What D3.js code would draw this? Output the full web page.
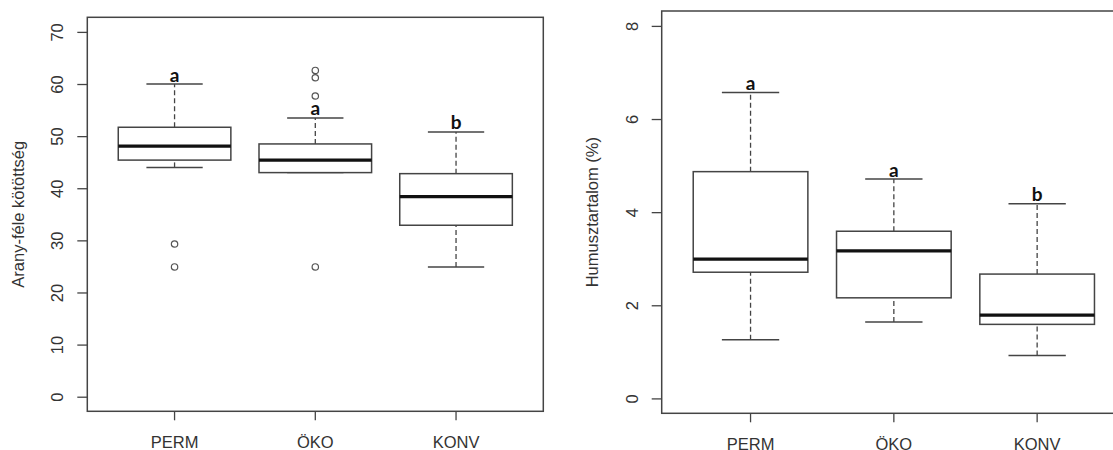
<!DOCTYPE html>
<html>
<head>
<meta charset="utf-8">
<script src="https://cdn.jsdelivr.net/npm/d3@7"></script>
<style>
  body { margin: 0; background: #fff; }
  svg { display: block; }
  .tick text { font-family: "Liberation Sans", Arial, sans-serif; font-size: 16.5px; fill: #333; }
</style>
</head>
<body>
<div id="chart"></div>
<script>
// groups on the x axis
const groups = ["PERM", "ÖKO", "KONV"]

// Arany-féle kötöttség: [lower whisker, Q1, median, Q3, upper whisker]
const aranyStats = [
  [44.0, 45.4, 48.1, 51.7, 60.0],
  [43.0, 43.0, 45.4, 48.5, 53.5],
  [24.9, 32.9, 38.4, 42.8, 50.8]
]
const aranyOutliers = [[29.3, 24.9], [62.6, 61.2, 57.7, 24.9], []]
const aranyLetters = ["a", "a", "b"]
const aranyTicks = [0, 10, 20, 30, 40, 50, 60, 70]

// Humusztartalom (%)
const humusStats = [
  [1.26, 2.71, 2.99, 4.87, 6.57],
  [1.64, 2.16, 3.17, 3.59, 4.71],
  [0.92, 1.59, 1.79, 2.67, 4.18]
]
const humusOutliers = [[], [], []]
const humusLetters = ["a", "a", "b"]
const humusTicks = [0, 2, 4, 6, 8]

var svg = d3.select("#chart")
  .append("svg")
    .attr("width", 1113)
    .attr("height", 450)

function boxPanel(opt) {
  var g = svg.append("g")

  // R style: xlim 0.5..n+0.5 plus 4% -> band padding
  var x = d3.scaleBand()
      .domain(groups)
      .range([opt.left, opt.right])
      .paddingInner(0.2)
      .paddingOuter(0.22)

  var y = d3.scaleLinear()
      .domain(opt.ylim)
      .range([opt.bottom, opt.top])

  var stroke = "#444"

  // frame
  g.append("rect")
    .attr("x", opt.left).attr("y", opt.top)
    .attr("width", opt.right - opt.left)
    .attr("height", opt.bottom - opt.top)
    .attr("fill", "none")
    .attr("stroke", stroke)
    .attr("stroke-width", 1.5)

  // y axis
  var yAxis = g.append("g")
    .attr("transform", "translate(" + opt.left + ",0)")
    .call(d3.axisLeft(y).tickValues(opt.ticks).tickSize(10).tickFormat(d3.format("d")))
  yAxis.select(".domain").remove()
  yAxis.selectAll(".tick line").attr("stroke", stroke).attr("stroke-width", 1.3)
  // rotated labels, centred on the tick
  yAxis.selectAll(".tick text")
    .attr("transform", "rotate(-90)")
    .attr("x", 0)
    .attr("dy", 0)
    .attr("y", -(opt.left - opt.tickLabelX))
    .attr("text-anchor", "middle")
    .attr("dominant-baseline", "central")

  // x axis
  var xAxis = g.append("g")
    .attr("transform", "translate(0," + opt.bottom + ")")
    .call(d3.axisBottom(x).tickSize(9).tickPadding(16))
  xAxis.select(".domain").remove()
  xAxis.selectAll(".tick line").attr("stroke", stroke).attr("stroke-width", 1.3)

  // y title
  g.append("text")
    .attr("transform", "translate(" + opt.titleX + "," + ((opt.top + opt.bottom) / 2) + ") rotate(-90)")
    .attr("text-anchor", "middle")
    .attr("dominant-baseline", "central")
    .style("font-family", "Liberation Sans, Arial, sans-serif")
    .style("font-size", "16.5px")
    .style("fill", "#333")
    .text(opt.title)

  var bw = x.bandwidth()

  var box = g.selectAll(".box")
    .data(opt.stats)
    .enter()
    .append("g")
      .attr("transform", (d, i) => "translate(" + (x(groups[i]) + bw / 2) + ",0)")

  // whiskers
  box.append("line")
    .attr("y1", d => y(d[3])).attr("y2", d => y(d[4]))
    .attr("stroke", stroke).attr("stroke-width", 1.3).attr("stroke-dasharray", "5,3")
  box.append("line")
    .attr("y1", d => y(d[0])).attr("y2", d => y(d[1]))
    .attr("stroke", stroke).attr("stroke-width", 1.3).attr("stroke-dasharray", "5,3")
  // staples
  box.append("line")
    .attr("x1", -bw / 4).attr("x2", bw / 4)
    .attr("y1", d => y(d[4])).attr("y2", d => y(d[4]))
    .attr("stroke", stroke).attr("stroke-width", 1.5)
  box.append("line")
    .attr("x1", -bw / 4).attr("x2", bw / 4)
    .attr("y1", d => y(d[0])).attr("y2", d => y(d[0]))
    .attr("stroke", stroke).attr("stroke-width", 1.5)
  // box
  box.append("rect")
    .attr("x", -bw / 2).attr("width", bw)
    .attr("y", d => y(d[3]))
    .attr("height", d => y(d[1]) - y(d[3]))
    .attr("fill", "#fff")
    .attr("stroke", stroke).attr("stroke-width", 1.5)
  // median
  box.append("line")
    .attr("x1", -bw / 2).attr("x2", bw / 2)
    .attr("y1", d => y(d[2])).attr("y2", d => y(d[2]))
    .attr("stroke", "#111").attr("stroke-width", 3.2)

  // outliers
  box.each(function(d, i) {
    d3.select(this).selectAll("circle")
      .data(opt.outliers[i])
      .enter()
      .append("circle")
        .attr("cx", 0)
        .attr("cy", v => y(v))
        .attr("r", 3.2)
        .attr("fill", "none")
        .attr("stroke", "#555")
        .attr("stroke-width", 1.2)
  })

  // significance letters
  box.append("text")
    .attr("y", d => y(d[4]) - 2.5)
    .attr("text-anchor", "middle")
    .style("font-family", "Lato, 'Open Sans', sans-serif")
    .style("font-weight", "700")
    .style("font-size", "19px")
    .style("fill", "#111")
    .text((d, i) => opt.letters[i])
}

boxPanel({
  left: 87.3, right: 543.3, top: 17.3, bottom: 411.3,
  ylim: [-2.8, 72.8], ticks: aranyTicks,
  stats: aranyStats, outliers: aranyOutliers, letters: aranyLetters,
  title: "Arany-féle kötöttség", titleX: 18, tickLabelX: 57
})

boxPanel({
  left: 661.7, right: 661.7 + 3.24 * 143.3, top: 11, bottom: 413.3,
  ylim: [-0.32, 8.32], ticks: humusTicks,
  stats: humusStats, outliers: humusOutliers, letters: humusLetters,
  title: "Humusztartalom (%)", titleX: 592, tickLabelX: 632
})
</script>
</body>
</html>
